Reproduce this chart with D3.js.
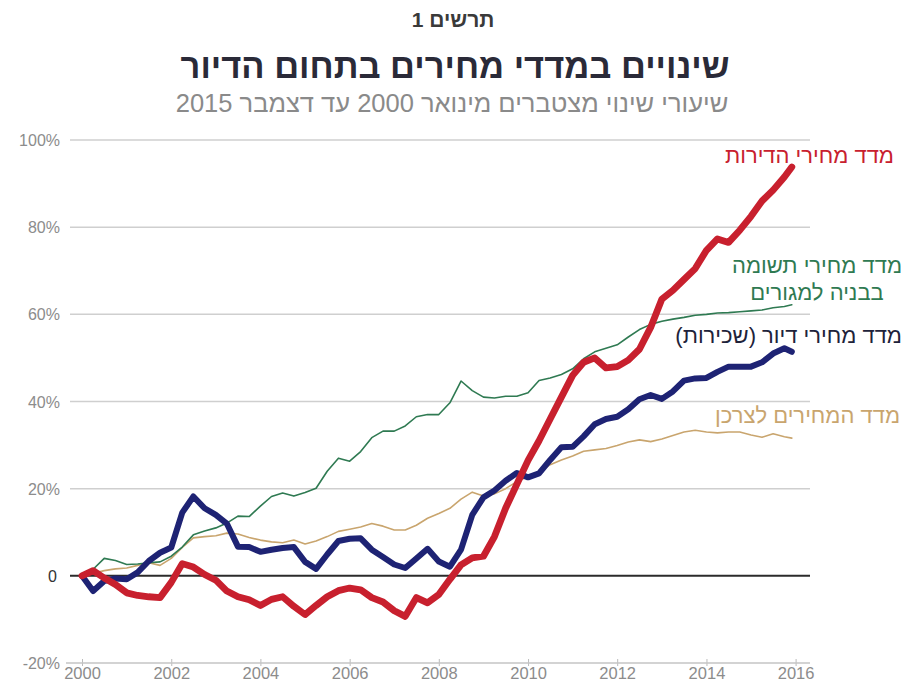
<!DOCTYPE html>
<html lang="he">
<head>
<meta charset="utf-8">
<script src="https://cdn.jsdelivr.net/npm/d3@7"></script>
<style>
  html, body { margin: 0; padding: 0; background: #ffffff; }
  svg { display: block; font-family: "Liberation Sans", "DejaVu Sans", sans-serif; }
</style>
</head>
<body>
<svg id="chart" width="913" height="689"></svg>
<script>
// Quarterly observations, January 2000 to October 2015, plus December 2015
const dates = d3.range(64).map(i => new Date(2000, i * 3, 1)).concat([new Date(2015, 11, 1)]);

// Cumulative change since January 2000, percent
const apartmentPrices = [
  0, 1.2, -0.5, -2, -3.9, -4.5, -4.8, -5,
  -1.5, 2.8, 2, 0.3, -1, -3.5, -4.8, -5.5,
  -6.8, -5.4, -4.8, -7, -8.9, -6.8, -4.8, -3.4,
  -2.8, -3.2, -5, -6, -8, -9.3, -5, -6.2,
  -4.3, -0.8, 2.5, 4.1, 4.5, 9, 15.5, 21,
  26.5, 31, 36, 41, 46, 49, 50, 47.7,
  48, 49.5, 52, 57, 63.5, 65.5, 68, 70.5,
  74.7, 77.3, 76.5, 79.3, 82.5, 86, 88.5, 91.5,
  93.8
];
const constructionInputs = [
  0, 1.5, 4, 3.5, 2.6, 2.7, 3, 3.2,
  4.5, 6.6, 9.4, 10.3, 11, 12.1, 13.7, 13.6,
  16, 18.2, 19, 18.3, 19.1, 20.1, 24, 27,
  26.3, 28.5, 31.7, 33.2, 33.2, 34.4, 36.5, 37,
  37, 39.7, 44.7, 42.5, 41, 40.8, 41.2, 41.2,
  42, 44.8, 45.4, 46.2, 47.5, 49.8, 51.4, 52.2,
  53, 54.8, 56.5, 57.7, 58.4, 58.9, 59.3, 59.8,
  60, 60.3, 60.4, 60.6, 60.8, 61, 61.5, 61.8,
  62.2
];
const housingRent = [
  0, -3.5, -1.2, -0.6, -0.8, 0.8, 3.4, 5.3,
  6.5, 14.5, 18.2, 15.5, 14, 12, 6.7, 6.6,
  5.5, 6, 6.4, 6.6, 3.2, 1.6, 4.9, 8,
  8.5, 8.6, 6, 4.3, 2.6, 1.8, 4, 6.2,
  3.3, 2.1, 6, 14, 18, 19.6, 21.8, 23.6,
  22.6, 23.5, 26.6, 29.5, 29.6, 32, 34.8, 36,
  36.5, 38.2, 40.5, 41.5, 40.6, 42.3, 44.8, 45.3,
  45.4, 46.8, 48, 48, 48, 49, 51, 52.2,
  51.4
];
const consumerPrices = [
  0, 0.6, 1.2, 1.6, 1.8, 2.4, 3, 2.4,
  4, 6.5, 8.7, 9, 9.2, 9.8, 9.6, 8.8,
  8.2, 7.8, 7.6, 8.2, 7.3, 8, 9, 10.2,
  10.7, 11.2, 12, 11.4, 10.5, 10.5, 11.6, 13.2,
  14.3, 15.5, 17.6, 19.2, 18.3, 18.8, 20, 21.6,
  22.8, 23.8, 25.5, 26.6, 27.5, 28.6, 28.9, 29.2,
  29.9, 30.7, 31.2, 30.8, 31.4, 32.2, 33, 33.4,
  33, 32.8, 33, 33, 32.3, 31.8, 32.6, 31.9,
  31.6
];

const yTicks = [-20, 0, 20, 40, 60, 80, 100];
const yTickLabels = ["-20%", "0", "20%", "40%", "60%", "80%", "100%"];
const xTickYears = [2000, 2002, 2004, 2006, 2008, 2010, 2012, 2014, 2016];

const chartTitleTop = "תרשים 1";
const chartTitle = "שינויים במדדי מחירים בתחום הדיור";
const chartSubtitle = "שיעורי שינוי מצטברים מינואר 2000 עד דצמבר 2015";

const series = [
  { name: ["מדד המחירים לצרכן"], values: consumerPrices, color: "#c9a56e", width: 1.6, labelY: [415], labelX: 900 },
  { name: ["מדד מחירי תשומה", "בבניה למגורים"], values: constructionInputs, color: "#2f7a52", width: 1.6, labelY: [265, 292], labelX: 817 },
  { name: ["מדד מחירי דיור (שכירות)"], values: housingRent, color: "#1e2374", width: 6, labelY: [335], labelX: 902 },
  { name: ["מדד מחירי הדירות"], values: apartmentPrices, color: "#c8202e", width: 6.8, labelY: [155], labelX: 894 }
];
const labelColors = { "#1e2374": "#20223a" };

const svg = d3.select("#chart");
const plotLeft = 70, plotRight = 810;

const x = d3.scaleTime()
  .domain([new Date(2000, 0, 1), new Date(2016, 0, 1)])
  .range([82, 795.6]);
const y = d3.scaleLinear().domain([-20, 100]).range([663, 140]);

// Titles
svg.append("text").attr("x", 453).attr("y", 27).attr("text-anchor", "middle")
  .attr("direction", "rtl").attr("font-size", 21).attr("font-weight", 700).attr("fill", "#3a3a3a")
  .text(chartTitleTop);
svg.append("text").attr("x", 455).attr("y", 78).attr("text-anchor", "middle")
  .attr("direction", "rtl").attr("font-size", 34.5).attr("font-weight", 700).attr("fill", "#2a2a38")
  .text(chartTitle);
svg.append("text").attr("x", 452).attr("y", 112).attr("text-anchor", "middle")
  .attr("direction", "rtl").attr("font-size", 25.5).attr("fill", "#8a8a8a")
  .text(chartSubtitle);

// Horizontal grid
svg.append("g").selectAll("line").data(yTicks.filter(v => v > 0)).join("line")
  .attr("x1", plotLeft).attr("x2", plotRight)
  .attr("y1", d => y(d)).attr("y2", d => y(d))
  .attr("stroke", "#cfcfcf").attr("stroke-width", 1.5);

// Y tick labels
svg.append("g").selectAll("text").data(yTicks).join("text")
  .attr("x", d => d === 0 ? 57 : 60)
  .attr("y", d => y(d) + 6)
  .attr("text-anchor", "end")
  .attr("font-size", 16)
  .attr("fill", d => d === 0 ? "#333" : "#8c8c8c")
  .text((d, i) => yTickLabels[i]);

// Bottom axis
const xAxis = d3.axisBottom(x)
  .tickValues(xTickYears.map(yr => new Date(yr, 0, 1)))
  .tickFormat(d3.timeFormat("%Y"))
  .tickSize(4)
  .tickSizeOuter(0);
const gx = svg.append("g").attr("transform", `translate(0,${y(-20)})`).call(xAxis);
gx.select(".domain").remove();
gx.selectAll(".tick line").attr("stroke", "#bbb").attr("y1", -4).attr("y2", 3);
gx.selectAll(".tick text").attr("font-size", 16.5).attr("fill", "#8c8c8c")
  .attr("font-family", "\"Liberation Sans\", sans-serif").attr("dy", "0.75em").attr("y", 4);
svg.append("line").attr("x1", plotLeft - 4).attr("x2", plotRight)
  .attr("y1", y(-20)).attr("y2", y(-20)).attr("stroke", "#c4c4c4").attr("stroke-width", 1.5);

// Zero line
svg.append("line").attr("x1", plotLeft).attr("x2", plotRight)
  .attr("y1", y(0)).attr("y2", y(0)).attr("stroke", "#2b2b2b").attr("stroke-width", 2);

// Series lines
const line = d3.line()
  .x((d, i) => x(dates[i]))
  .y(d => y(d))
  .curve(d3.curveLinear);

svg.append("g").selectAll("path").data(series).join("path")
  .attr("d", d => line(d.values))
  .attr("fill", "none")
  .attr("stroke", d => d.color)
  .attr("stroke-width", d => d.width)
  .attr("stroke-linejoin", "round")
  .attr("stroke-linecap", "round");

// Series labels (right-to-left: "start" sits at the right edge)
const labels = svg.append("g");
series.forEach(s => {
  s.name.forEach((txt, k) => {
    labels.append("text")
      .attr("x", s.labelX)
      .attr("y", s.labelY[k] + 8)
      .attr("text-anchor", s.name.length > 1 ? "middle" : "start")
      .attr("direction", "rtl")
      .attr("font-size", 22)
      .attr("fill", labelColors[s.color] || s.color)
      .text(txt);
  });
});
</script>
</body>
</html>
